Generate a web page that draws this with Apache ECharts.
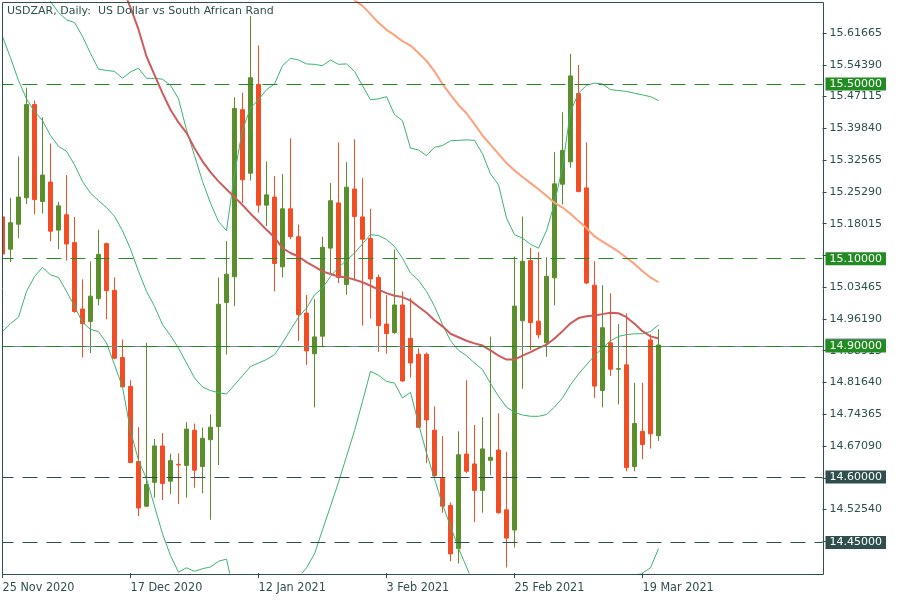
<!DOCTYPE html>
<html><head><meta charset="utf-8">
<script src="https://cdn.jsdelivr.net/npm/echarts@6/dist/echarts.min.js"></script>
<style>html,body{margin:0;padding:0;background:#fff}#c{width:900px;height:600px}</style>
</head><body><div id="c"></div>
<script>
// ---------------- data ----------------
const dates = ['25 Nov 2020','26 Nov 2020','27 Nov 2020','30 Nov 2020','1 Dec 2020','2 Dec 2020','3 Dec 2020','4 Dec 2020','7 Dec 2020','8 Dec 2020','9 Dec 2020','10 Dec 2020','11 Dec 2020','14 Dec 2020','15 Dec 2020','16 Dec 2020','17 Dec 2020','18 Dec 2020','21 Dec 2020','22 Dec 2020','23 Dec 2020','24 Dec 2020','28 Dec 2020','29 Dec 2020','30 Dec 2020','31 Dec 2020','4 Jan 2021','5 Jan 2021','6 Jan 2021','7 Jan 2021','8 Jan 2021','11 Jan 2021','12 Jan 2021','13 Jan 2021','14 Jan 2021','15 Jan 2021','18 Jan 2021','19 Jan 2021','20 Jan 2021','21 Jan 2021','22 Jan 2021','25 Jan 2021','26 Jan 2021','27 Jan 2021','28 Jan 2021','29 Jan 2021','1 Feb 2021','2 Feb 2021','3 Feb 2021','4 Feb 2021','5 Feb 2021','8 Feb 2021','9 Feb 2021','10 Feb 2021','11 Feb 2021','12 Feb 2021','15 Feb 2021','16 Feb 2021','17 Feb 2021','18 Feb 2021','19 Feb 2021','22 Feb 2021','23 Feb 2021','24 Feb 2021','25 Feb 2021','26 Feb 2021','1 Mar 2021','2 Mar 2021','3 Mar 2021','4 Mar 2021','5 Mar 2021','8 Mar 2021','9 Mar 2021','10 Mar 2021','11 Mar 2021','12 Mar 2021','15 Mar 2021','16 Mar 2021','17 Mar 2021','18 Mar 2021','19 Mar 2021','22 Mar 2021','23 Mar 2021'];

const opens = [15.1957,15.1217,15.1789,15.2394,15.4529,15.2310,15.2755,15.1654,15.2007,15.1368,
14.9847,14.9561,15.0082,15.1343,15.0275,14.8737,14.8073,14.6358,14.5332,14.5878,
14.6711,14.5904,14.6290,14.6265,14.7072,14.6240,14.6854,14.7156,14.9998,15.0586,
15.4412,15.2957,15.4992,15.2226,15.2411,15.0813,15.2142,15.1503,14.9754,14.8821,
14.9224,15.1242,15.2276,15.0410,15.2596,15.1957,15.1461,15.0570,14.9502,14.9309,
14.9939,14.9174,14.8812,14.8812,14.7072,14.5963,14.5349,14.4365,14.6526,14.6299,
14.5693,14.6383,14.6618,14.5248,14.4785,14.9578,15.0956,14.9569,14.9073,15.0561,
15.2705,15.3218,15.4781,15.2621,15.0393,14.7980,14.9073,14.8470,14.8569,14.6240,
14.7047,14.9140,14.6946];
const highs = [15.2150,15.2394,15.3344,15.4916,15.4622,15.4235,15.3638,15.2301,15.2915,15.1957,
15.0527,15.0939,15.1662,15.1370,15.0570,14.9149,14.8216,14.7140,14.9073,14.6870,
14.7005,14.6534,14.6542,14.7257,14.7223,14.7131,14.7434,15.0570,15.1402,15.4697,
15.4798,15.6555,15.5883,15.3226,15.2890,15.2940,15.3756,15.1780,15.0166,15.0074,
15.1503,15.2730,15.3663,15.3209,15.3731,15.2848,15.2142,15.0637,15.0166,15.1208,
15.0250,15.0099,14.8947,14.8850,14.7619,14.6938,14.5416,14.7047,14.8216,14.7190,
14.7367,14.9216,14.7459,14.6576,15.1049,15.1965,15.1242,15.1150,15.1032,15.3445,
15.4353,15.5689,15.5437,15.3663,15.0939,15.0393,15.0208,14.9502,14.9746,14.8157,
14.8157,14.9267,14.9384];
const lows = [15.1000,15.0923,15.1469,15.2251,15.2016,15.2032,15.1402,15.1217,15.0956,14.9760,
14.8737,14.8838,14.9931,14.9611,14.8695,14.8047,14.6316,14.5105,14.5310,14.5525,
14.5475,14.5609,14.5382,14.5525,14.5752,14.5626,14.5021,14.6274,14.8804,14.9914,
15.2276,15.2789,15.2058,15.1747,15.0250,15.0570,15.1444,14.9115,14.8569,14.7593,
14.8972,15.0670,15.0443,15.0174,15.0502,14.9468,14.9628,14.8863,14.8821,14.9275,
14.8180,14.8274,14.7120,14.6316,14.6005,14.5181,14.4071,14.4020,14.6089,14.4970,
14.5181,14.6047,14.5160,14.3928,14.4382,14.8022,14.8905,14.9174,14.8754,14.9931,
15.2242,15.3083,15.2520,15.0420,14.7812,14.7593,14.8316,14.7661,14.6131,14.6131,
14.6408,14.6652,14.6828];
const closes = [15.1108,15.1822,15.2411,15.4529,15.2352,15.2915,15.1629,15.2209,15.1335,14.9788,
14.9510,15.0141,15.1099,15.0267,14.8720,14.8064,14.6332,14.5290,14.5828,14.6711,
14.5853,14.6374,14.6275,14.7097,14.6156,14.6887,14.7140,14.9956,15.0645,15.4437,
15.2806,15.5143,15.2226,15.2461,15.0889,15.2142,15.1503,14.9720,14.8888,14.9208,
15.1259,15.2327,15.0570,15.2638,15.1965,15.1444,15.0536,14.9468,14.9283,14.9939,
14.8199,14.8611,14.7140,14.7308,14.6030,14.5332,14.4239,14.6509,14.6131,14.5693,
14.6643,14.6450,14.5181,14.4601,14.9914,15.0939,14.9535,14.9258,15.0595,15.2713,
15.3478,15.5185,15.2537,15.0443,14.8081,14.9418,14.8468,14.8480,14.6215,14.7224,
14.6744,14.6988,14.9023];

// Bollinger bands
const bbUpper = [16.28,16.17,16.05,15.91,15.82,15.75,15.689,15.664,15.647,15.641,
15.609,15.570,15.534,15.531,15.529,15.513,15.528,15.536,15.513,15.513,
15.511,15.497,15.466,15.395,15.336,15.277,15.227,15.185,15.164,15.294,
15.395,15.445,15.464,15.487,15.500,15.542,15.559,15.555,15.546,15.545,
15.542,15.555,15.545,15.546,15.529,15.496,15.464,15.466,15.471,15.430,
15.416,15.353,15.349,15.336,15.355,15.359,15.370,15.371,15.372,15.371,
15.340,15.294,15.269,15.193,15.155,15.147,15.133,15.124,15.164,15.227,
15.311,15.437,15.479,15.497,15.502,15.500,15.487,15.485,15.483,15.479,
15.475,15.471,15.462];
const bbMiddle = [15.609,15.560,15.508,15.466,15.437,15.416,15.382,15.357,15.346,15.315,
15.277,15.250,15.233,15.217,15.197,15.164,15.122,15.071,15.025,14.991,
14.949,14.924,14.895,14.861,14.827,14.806,14.798,14.793,14.790,14.811,
14.832,14.853,14.861,14.869,14.880,14.907,14.937,14.966,14.987,15.017,
15.033,15.059,15.080,15.096,15.113,15.134,15.155,15.153,15.144,15.128,
15.101,15.067,15.050,15.025,14.991,14.949,14.912,14.890,14.878,14.861,
14.846,14.814,14.785,14.760,14.748,14.742,14.739,14.739,14.743,14.760,
14.781,14.811,14.836,14.857,14.878,14.895,14.912,14.922,14.926,14.928,
14.928,14.933,14.948];
const bbLower = [14.933,14.951,14.966,15.025,15.059,15.080,15.063,15.057,15.025,14.991,
14.954,14.938,14.933,14.907,14.857,14.806,14.706,14.638,14.596,14.533,
14.470,14.420,14.382,14.392,14.384,14.390,14.394,14.407,14.412,14.33,
14.27,14.26,14.26,14.25,14.26,14.27,14.32,14.37,14.392,14.424,
14.479,14.533,14.588,14.647,14.706,14.773,14.842,14.833,14.819,14.815,
14.781,14.794,14.722,14.655,14.596,14.537,14.487,14.437,14.394,14.35,
14.34,14.33,14.30,14.33,14.34,14.34,14.34,14.35,14.32,14.29,
14.25,14.19,14.19,14.22,14.25,14.29,14.34,14.36,14.37,14.375,
14.380,14.392,14.436];

// Moving averages (start index = first candle where the line is drawn)
const maRedStart = 15;
const maRed = [15.72,15.675,15.625,15.563,15.521,15.479,15.441,15.412,15.388,15.353,
15.323,15.298,15.277,15.259,15.241,15.223,15.203,15.185,15.166,15.149,
15.124,15.113,15.105,15.092,15.082,15.071,15.065,15.059,15.057,15.052,
15.046,15.038,15.029,15.021,15.015,15.012,15.004,14.990,14.976,14.959,
14.945,14.928,14.920,14.912,14.906,14.901,14.890,14.878,14.869,14.869,
14.878,14.886,14.895,14.903,14.917,14.934,14.952,14.964,14.968,14.970,
14.973,14.976,14.975,14.966,14.951,14.934,14.922,14.917];
const maSalmonStart = 43;
const maSalmon = [15.72,15.692,15.679,15.660,15.640,15.624,15.612,15.598,15.588,15.571,
15.553,15.529,15.500,15.475,15.452,15.433,15.408,15.382,15.361,15.340,
15.319,15.302,15.287,15.273,15.259,15.244,15.228,15.217,15.203,15.186,
15.170,15.151,15.139,15.128,15.116,15.102,15.088,15.071,15.057,15.046];

// Horizontal levels and axis ticks
const levelsGreen = [15.5, 15.1, 14.9];
const levelsDark = [14.6, 14.45];
const bidPrice = 14.9023;
const yAxisMin = 14.3799, yAxisMax = 15.6894, yAxisStep = 0.07275;
const hiddenTickLabels = [15.1074, 14.59815, 14.45265];
const xTickLabels = ['25 Nov 2020','17 Dec 2020','12 Jan 2021','3 Feb 2021','25 Feb 2021','19 Mar 2021'];
const emptySlots = 20;
const title = 'USDZAR, Daily:  US Dollar vs South African Rand';

// ---------------- build ----------------
const C_TEXT = '#2f4f4f', C_BULL = '#5b8f2b', C_BEAR = '#f24e26';
const C_LVL_G = '#228b22', C_LVL_D = '#2f4f4f', C_BB = '#3cb371';
const cats = dates.slice();
for (let i = 0; i < emptySlots; i++) cats.push('pad' + i);
const labelIdx = new Set(xTickLabels.map(d => dates.indexOf(d)));
const showIdx = (i) => labelIdx.has(i);

const candleData = dates.map((d, i) => [opens[i], closes[i], lows[i], highs[i]]);
function shifted(arr, start) {
  const out = dates.map(() => null);
  arr.forEach((v, k) => { out[start + k] = v; });
  return out;
}
const fontAxis = 'DejaVu Sans';
function levelItem(v, color) {
  return {
    yAxis: v,
    lineStyle: { color: color, type: [15, 9], width: 1 },
    label: {
      show: true, position: 'end', distance: 3, formatter: v.toFixed(5),
      color: '#ffffff', backgroundColor: color, padding: [1, 4, 1, 4],
      fontFamily: fontAxis, fontSize: 11, lineHeight: 11
    }
  };
}
function lineSeries(data, color, width, z) {
  return { type: 'line', data: data, showSymbol: false, symbol: 'none', connectNulls: true,
    lineStyle: { color: color, width: width }, z: z, silent: true, animation: false, clip: true };
}

const chart = echarts.init(document.getElementById('c'), null, { renderer: 'canvas' });
chart.setOption({
  animation: false,
  backgroundColor: '#ffffff',
  title: { text: title, left: 2, top: 1, textStyle: { fontFamily: fontAxis, fontSize: 11, fontWeight: 'normal', color: C_TEXT } },
  grid: { left: -1.5, right: 77.5, top: 1.3, bottom: 26.9, containLabel: false, outerBoundsMode: 'none' },
  xAxis: {
    type: 'category', data: cats, boundaryGap: true,
    axisLine: { show: false },
    axisTick: { show: true, alignWithLabel: true, length: 5, interval: showIdx, lineStyle: { color: C_TEXT } },
    axisLabel: { interval: showIdx, align: 'left', margin: 8, color: C_TEXT,
      fontFamily: '"Liberation Sans Narrow", "DejaVu Sans Condensed", sans-serif', fontSize: 12.5 },
    splitLine: { show: false }
  },
  yAxis: {
    type: 'value', position: 'right', min: yAxisMin, max: yAxisMax, interval: yAxisStep,
    axisLine: { show: false },
    axisTick: { show: true, length: 4, lineStyle: { color: C_TEXT } },
    axisLabel: { margin: 7, color: C_TEXT, fontFamily: fontAxis, fontSize: 11, showMinLabel: false, showMaxLabel: false,
      formatter: (v) => hiddenTickLabels.some(h => Math.abs(h - v) < 1e-6) ? '' : v.toFixed(5) },
    splitLine: { show: false }
  },
  series: [
    { type: 'candlestick', data: candleData, barWidth: 4, z: 2, silent: true, animation: false,
      itemStyle: { color: C_BULL, color0: C_BEAR, borderColor: C_BULL, borderColor0: C_BEAR, borderWidth: 1 } },
    lineSeries(bbUpper, C_BB, 1, 3),
    lineSeries(bbMiddle, C_BB, 1, 3),
    lineSeries(bbLower, C_BB, 1, 3),
    lineSeries(shifted(maRed, maRedStart), '#cd5c5c', 2, 3),
    lineSeries(shifted(maSalmon, maSalmonStart), '#ffa07a', 2, 3),
    { type: 'line', data: [], z: 4, silent: true,
      markLine: { silent: true, symbol: ['none', 'none'], animation: false,
        data: [{ yAxis: bidPrice, lineStyle: { color: '#778899', type: 'solid', width: 1 },
          label: { show: true, position: 'end', distance: 3, offset: [0, -1], formatter: bidPrice.toFixed(5),
            color: '#ffffff', backgroundColor: '#778899', padding: [1, 4, 1, 4], fontFamily: fontAxis, fontSize: 11, lineHeight: 11 } }] } },
    { type: 'line', data: [], z: 5, silent: true,
      markLine: { silent: true, symbol: ['none', 'none'], animation: false,
        data: levelsGreen.map(v => levelItem(v, C_LVL_G)).concat(levelsDark.map(v => levelItem(v, C_LVL_D))) } }
  ],
  graphic: [
    { type: 'rect', silent: true, z: 100, shape: { x: 0, y: 0, width: 2, height: 580 }, style: { fill: '#ffffff' } },
    { type: 'rect', silent: true, z: 101, shape: { x: 2.5, y: 2.5, width: 821, height: 572 }, style: { fill: null, stroke: C_TEXT, lineWidth: 1 } }
  ]
});
</script>
</body></html>
